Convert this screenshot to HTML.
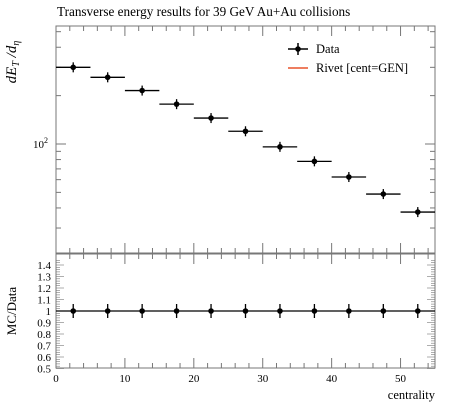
<!DOCTYPE html>
<html><head><meta charset="utf-8"><style>
body{margin:0;background:#fff}
svg{font-family:"Liberation Serif",serif;display:block}
</style></head><body>
<svg width="450" height="406">
<text x="57" y="16" font-size="13.2">Transverse energy results for 39 GeV Au+Au collisions</text>
<text transform="translate(16,62) rotate(-90)" font-size="15" font-style="italic" text-anchor="middle">dE<tspan font-size="10" dy="3">T</tspan><tspan dy="-3"> /d</tspan><tspan font-size="10" dy="3">η</tspan></text>
<text transform="translate(16,311) rotate(-90)" font-size="13" text-anchor="middle">MC/Data</text>
<text x="435" y="399" font-size="12.5" text-anchor="end">centrality</text>
<g id="main"></g>
<g id="ratio"></g>
<g>
<line x1="288" y1="49" x2="308" y2="49" stroke="#000" stroke-width="1.5"/>
<line x1="298" y1="43" x2="298" y2="55" stroke="#000" stroke-width="1.5"/>
<circle cx="298" cy="49" r="2.8"/>
<text x="316" y="53" font-size="12.5">Data</text>
<line x1="288" y1="68" x2="308" y2="68" stroke="#e8542b" stroke-width="1.5"/>
<text x="316" y="72" font-size="12.5">Rivet [cent=GEN]</text>
</g>
</svg>
<script>
const binLo=[0,5,10,15,20,25,30,35,40,45,50];
const binHi=[5,10,15,20,25,30,35,40,45,50,55];
const values=[300,260,215,177,145,120,96,78,62.3,48.8,37.7];
const ratioValues=[1,1,1,1,1,1,1,1,1,1,1];
const xTicks=[0,10,20,30,40,50];
const ratioTicks=[0.5,0.6,0.7,0.8,0.9,1,1.1,1.2,1.3,1.4];
const ratioTickLabels=["0.5","0.6","0.7","0.8","0.9","1","1.1","1.2","1.3","1.4"];
const NS="http://www.w3.org/2000/svg";
const X0=56,X1=435,T=26,B=253,RT=254,RB=368;
const xs=v=>X0+(X1-X0)*v/55;
const ys=v=>144-160.7*(Math.log10(v)-2);
const yr=v=>311-(v-1)*115;
function mk(p,t,a){const e=document.createElementNS(NS,t);for(const k in a)e.setAttribute(k,a[k]);p.appendChild(e);return e;}
const main=document.getElementById('main'),ratio=document.getElementById('ratio');
const gray="#777";
let f=mk(main,'rect',{x:X0,y:T,width:X1-X0,height:B-T,fill:'none',stroke:gray,'stroke-width':1});

let f2=mk(ratio,'rect',{x:X0,y:RT,width:X1-X0,height:RB-RT,fill:'none',stroke:gray,'stroke-width':1});

for(let v=0;v<=55;v+=2){
  const major=v%10===0, x=xs(v), L=major?10:5;
  [[T,1],[B,-1],[RT,1],[RB,-1]].forEach(([y,d])=>{
    if(v===0)return;
    mk(main,'line',{x1:x,y1:y,x2:x,y2:y+d*L,stroke:gray});
  });
}
xTicks.forEach(v=>{
  const t=mk(ratio,'text',{x:xs(v),y:382,'font-size':11,'text-anchor':'middle'});t.textContent=v;
  
});
for(let d=10;d<=1000;d*=10)for(let m=1;m<10;m++){
  const v=d*m;const y=ys(v);if(y<T||y>B)continue;
  const L=m===1?10:5;
  mk(main,'line',{x1:X0,y1:y,x2:X0+L,y2:y,stroke:gray});
  mk(main,'line',{x1:X1,y1:y,x2:X1-L,y2:y,stroke:gray});
}
let lt=mk(main,'text',{x:48,y:148,'font-size':11,'text-anchor':'end'});lt.innerHTML='10<tspan dy="-5" font-size="8">2</tspan>';

for(let k=0;k<=47;k++){
  const v=0.5+k*0.02;
  const y=yr(v);const maj=k%5===0;const L=maj?8:4;
  mk(ratio,'line',{x1:X0,y1:y,x2:X0+L,y2:y,stroke:gray,'stroke-width':0.6});
  mk(ratio,'line',{x1:X1,y1:y,x2:X1-L,y2:y,stroke:gray,'stroke-width':0.6});
}
ratioTicks.forEach((v,i)=>{
  const t=mk(ratio,'text',{x:51,y:yr(v)+4,'font-size':11,'text-anchor':'end'});t.textContent=ratioTickLabels[i];
  
});
mk(ratio,'line',{x1:X0,y1:yr(1),x2:X1,y2:yr(1),stroke:'#000','stroke-width':1.2});
values.forEach((v,i)=>{
  const g=mk(main,'g',{});
  
  const xc=xs((binLo[i]+binHi[i])/2),y=ys(v);
  mk(g,'line',{x1:xs(binLo[i]),y1:y,x2:xs(binHi[i]),y2:y,stroke:'#000','stroke-width':1.3});
  mk(g,'line',{x1:xc,y1:y-5,x2:xc,y2:y+5,stroke:'#000','stroke-width':1.3});
  mk(g,'circle',{cx:xc,cy:y,r:2.8});
});
ratioValues.forEach((v,i)=>{
  const g=mk(ratio,'g',{});
  
  const xc=xs((binLo[i]+binHi[i])/2),y=yr(v);
  mk(g,'line',{x1:xc,y1:y-7,x2:xc,y2:y+7,stroke:'#000','stroke-width':1.3});
  mk(g,'circle',{cx:xc,cy:y,r:2.8});
});
</script>
</body></html>
